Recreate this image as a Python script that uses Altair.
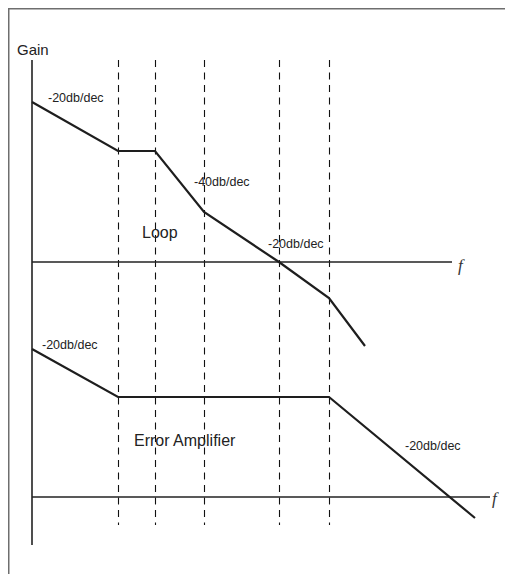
import altair as alt
import pandas as pd

# Diagram coordinates (units chosen so the scales map them onto the page)
loop_x = [32, 118, 155, 204, 279, 329, 365]
loop_y = [102, 151, 151, 212, 262, 298, 346]

err_x = [32, 118, 329, 475]
err_y = [349, 397, 397, 518]

break_x = [118, 155, 204, 279, 329]
dash_top, dash_bot = 60, 525

axis_x0 = 32
axis_top, axis_bot = 60, 545
loop_axis_y, loop_axis_x1 = 262, 452
err_axis_y, err_axis_x1 = 497, 490

label_text = ["-20db/dec", "-40db/dec", "-20db/dec", "-20db/dec", "-20db/dec"]
label_x = [48, 194, 268, 42, 405]
label_y = [98, 182, 244, 345, 446]

big_text = ["Gain", "Loop", "Error Amplifier"]
big_x = [17, 142, 134]
big_y = [50, 233, 441]
big_size = [15, 16, 16]

f_x = [458, 492]
f_y = [266, 499]

X0, X1 = 8, 505
Y0, Y1 = 8, 574
W, H = X1 - X0, Y1 - Y0

xs = alt.Scale(domain=[X0, X1], nice=False, zero=False)
ys = alt.Scale(domain=[Y1, Y0], nice=False, zero=False)

def X(f):
    return alt.X(f, type="quantitative", scale=xs, axis=None)

def Y(f):
    return alt.Y(f, type="quantitative", scale=ys, axis=None)

frame = pd.DataFrame({"x": [8.5, 8], "x2": [8.5, 505], "y": [8, 8.5], "y2": [574, 8.5]})
frame_layer = alt.Chart(frame).mark_rule(color="#6e6e6e", strokeWidth=2).encode(
    x=X("x"), x2="x2", y=Y("y"), y2="y2")

axes = pd.DataFrame({
    "x": [axis_x0, axis_x0, axis_x0],
    "x2": [axis_x0, loop_axis_x1, err_axis_x1],
    "y": [axis_top, loop_axis_y, err_axis_y],
    "y2": [axis_bot, loop_axis_y, err_axis_y],
})
axes_layer = alt.Chart(axes).mark_rule(color="#222222", strokeWidth=1.6).encode(
    x=X("x"), x2="x2", y=Y("y"), y2="y2")

dashes = pd.DataFrame({"x": [v + 0.5 for v in break_x], "y": [dash_top] * len(break_x), "y2": [dash_bot] * len(break_x)})
dash_layer = alt.Chart(dashes).mark_rule(color="#111111", strokeWidth=1.1, strokeDash=[7, 5.5]).encode(
    x=X("x"), y=Y("y"), y2="y2")

loop_df = pd.DataFrame({"x": loop_x, "y": loop_y, "o": range(len(loop_x))})
loop_layer = alt.Chart(loop_df).mark_line(color="#1e1e1e", strokeWidth=2.2).encode(
    x=X("x"), y=Y("y"), order="o")

err_df = pd.DataFrame({"x": err_x, "y": err_y, "o": range(len(err_x))})
err_layer = alt.Chart(err_df).mark_line(color="#1e1e1e", strokeWidth=2.2).encode(
    x=X("x"), y=Y("y"), order="o")

lab_df = pd.DataFrame({"t": label_text, "x": label_x, "y": label_y})
lab_layer = alt.Chart(lab_df).mark_text(
    align="left", baseline="middle", font="Liberation Sans", fontSize=12.5, color="#222222"
).encode(x=X("x"), y=Y("y"), text="t")

big_df = pd.DataFrame({"t": big_text, "x": big_x, "y": big_y, "s": big_size})
big_layer = alt.Chart(big_df).mark_text(
    align="left", baseline="middle", font="Liberation Sans", color="#222222"
).encode(x=X("x"), y=Y("y"), text="t", size=alt.Size("s:Q", scale=None, legend=None))

f_df = pd.DataFrame({"t": ["f", "f"], "x": f_x, "y": f_y})
f_layer = alt.Chart(f_df).mark_text(
    align="left", baseline="middle", font="Liberation Serif", fontStyle="italic", fontSize=17, color="#333333"
).encode(x=X("x"), y=Y("y"), text="t")

chart = alt.layer(
    frame_layer, dash_layer, axes_layer, loop_layer, err_layer, lab_layer, big_layer, f_layer
).properties(
    width=W, height=H, padding=0, autosize=alt.AutoSizeParams(type="none")
).configure_view(stroke=None)

chart.save("out.html", embed_options={"renderer": "svg", "actions": False})
